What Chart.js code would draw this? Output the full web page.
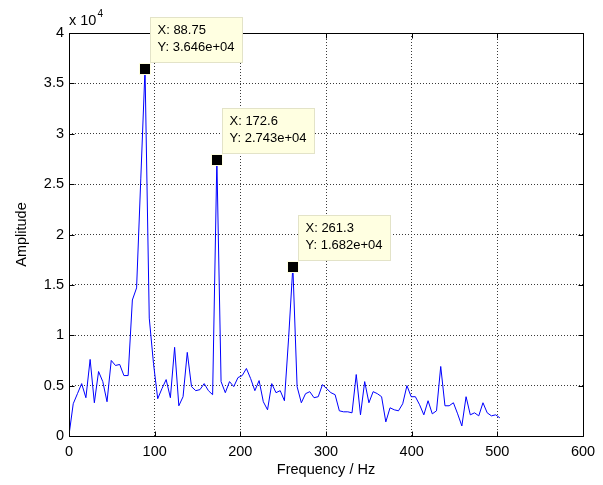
<!DOCTYPE html>
<html>
<head>
<meta charset="utf-8">
<script src="https://cdn.jsdelivr.net/npm/chart.js@4.4.1/dist/chart.umd.min.js"></script>
<style>
    body { margin: 0; background: #fff; }
    #chart { display: block; }
</style>
</head>
<body>
<canvas id="chart" width="603" height="485"></canvas>
<script>
// Frequências (Hz)
const freq = [
    0, 4.93, 9.86, 14.79, 19.72, 24.66, 29.59, 34.52, 39.45, 44.38,
    49.31, 54.24, 59.17, 64.10, 69.03, 73.97, 78.90, 83.83, 88.75, 93.69,
    98.62, 103.55, 108.48, 113.41, 118.34, 123.28, 128.21, 133.14, 138.07, 143.00,
    147.93, 152.86, 157.79, 162.72, 167.65, 172.6, 177.52, 182.45, 187.38, 192.31,
    197.24, 202.17, 207.10, 212.03, 216.96, 221.90, 226.83, 231.76, 236.69, 241.62,
    246.55, 251.48, 256.41, 261.3, 266.27, 271.21, 276.14, 281.07, 286.00, 290.93,
    295.86, 300.79, 305.72, 310.65, 315.58, 320.52, 325.45, 330.38, 335.31, 340.24,
    345.17, 350.10, 355.03, 359.96, 364.89, 369.83, 374.76, 379.69, 384.62, 389.55,
    394.48, 399.41, 404.34, 409.27, 414.20, 419.14, 424.07, 429.00, 433.93, 438.86,
    443.79, 448.72, 453.65, 458.58, 463.51, 468.45, 473.38, 478.31, 483.24, 488.17,
    493.10, 498.03, 502.96
];

// Amplitudes correspondentes
const amplitude = [
    100, 3200, 4200, 5200, 3800, 7600, 3300, 6400, 5400, 3400,
    7500, 7000, 7100, 6000, 6000, 13500, 14700, 25600, 36460, 11700,
    7200, 3700, 4700, 5600, 3800, 8800, 3000, 3900, 8300, 4900,
    4500, 4600, 5200, 4500, 4100, 27430, 5400, 4300, 5400, 4900,
    5800, 6000, 6700, 5700, 4500, 5500, 3400, 2600, 5200, 4300,
    4500, 3500, 9800, 16820, 4900, 3300, 4200, 4400, 3800, 3900,
    5100, 4700, 4300, 4100, 2500, 2400, 2400, 2300, 6100, 2100,
    5400, 3300, 4400, 4200, 3900, 1400, 2800, 2600, 2500, 3200,
    5000, 3900, 3900, 3100, 2100, 3500, 2200, 2500, 6900, 3000,
    3000, 3300, 2200, 1000, 3900, 2100, 2300, 2000, 3300, 2300,
    2000, 2100, 1800
];

// Índices dos picos marcados (data tips)
const peakIdx = [18, 35, 53];

// Ticks dos eixos
const xTicks = [0, 100, 200, 300, 400, 500, 600];
const yTicks = [0, 5000, 10000, 15000, 20000, 25000, 30000, 35000, 40000];

const FONT = 'Liberation Sans, Arial, sans-serif';

function fmtExp(v) {
    // 36460 -> 3.646e+04 (estilo MATLAB)
    const s = v.toExponential(3);
    return s.replace(/e([+-])(\d)$/, 'e$10$2');
}

// Fundo branco
const bgPlugin = {
    id: 'bg',
    beforeDraw(chart) {
        const ctx = chart.ctx;
        ctx.save();
        ctx.fillStyle = '#fff';
        ctx.fillRect(0, 0, chart.width, chart.height);
        ctx.restore();
    }
};

// Caixa do eixo com ticks para dentro + "x 10^4"
const framePlugin = {
    id: 'frame',
    afterDatasetsDraw(chart) {
        const { ctx, chartArea: a, scales } = chart;
        const L = Math.round(a.left) + 0.5, R = Math.round(a.right) + 0.5;
        const T = Math.round(a.top) + 0.5, B = Math.round(a.bottom) + 0.5;
        ctx.save();
        ctx.strokeStyle = '#000';
        ctx.lineWidth = 1;
        ctx.beginPath();
        ctx.rect(L, T, R - L, B - T);
        xTicks.forEach(v => {
            const px = Math.round(scales.x.getPixelForValue(v)) + 0.5;
            ctx.moveTo(px, B); ctx.lineTo(px, B - 5);
            ctx.moveTo(px, T); ctx.lineTo(px, T + 5);
        });
        yTicks.forEach(v => {
            const py = Math.round(scales.y.getPixelForValue(v)) + 0.5;
            ctx.moveTo(L, py); ctx.lineTo(L + 5, py);
            ctx.moveTo(R, py); ctx.lineTo(R - 5, py);
        });
        ctx.stroke();

        // multiplicador do eixo Y
        ctx.fillStyle = '#000';
        ctx.textBaseline = 'alphabetic';
        ctx.font = '14.5px ' + FONT;
        ctx.fillText('x 10', a.left, 25);
        const w = ctx.measureText('x 10').width;
        ctx.font = '10px ' + FONT;
        ctx.fillText('4', a.left + w + 1, 17);
        ctx.restore();
    }
};

// Data tips dos picos
const tipPlugin = {
    id: 'tips',
    afterDraw(chart) {
        const { ctx, scales } = chart;
        ctx.save();
        peakIdx.forEach(i => {
            const mx = scales.x.getPixelForValue(freq[i]);
            const my = scales.y.getPixelForValue(amplitude[i]);

            // marcador quadrado
            ctx.fillStyle = '#ffffe1';
            ctx.fillRect(Math.round(mx) - 6, Math.round(my) - 6, 12, 12);
            ctx.fillStyle = '#000';
            ctx.fillRect(Math.round(mx) - 5, Math.round(my) - 5, 10, 10);

            // caixa de texto
            const l1 = 'X: ' + freq[i];
            const l2 = 'Y: ' + fmtExp(amplitude[i]);
            ctx.font = '13px ' + FONT;
            const tw = Math.max(ctx.measureText(l1).width, ctx.measureText(l2).width);
            const bx = Math.round(mx) + 5.5, by = Math.round(my) - 51.5;
            const bw = Math.round(tw + 15), bh = 45;
            ctx.fillStyle = '#ffffe1';
            ctx.fillRect(bx, by, bw, bh);
            ctx.strokeStyle = '#e3e3c8';
            ctx.lineWidth = 1;
            ctx.strokeRect(bx, by, bw, bh);
            ctx.fillStyle = '#000';
            ctx.textBaseline = 'middle';
            ctx.fillText(l1, bx + 7, by + 13);
            ctx.fillText(l2, bx + 7, by + 30);
        });
        ctx.restore();
    }
};

new Chart(document.getElementById('chart'), {
    type: 'line',
    data: {
        datasets: [{
            data: freq.map((f, i) => ({ x: f, y: amplitude[i] })),
            borderColor: '#0000ff',
            borderWidth: 1,
            pointRadius: 0,
            tension: 0,
            fill: false
        }]
    },
    options: {
        responsive: false,
        devicePixelRatio: 1,
        animation: false,
        events: [],
        layout: { padding: { top: 33, right: 20, left: 0, bottom: 0 } },
        plugins: {
            legend: { display: false },
            tooltip: { enabled: false }
        },
        scales: {
            x: {
                type: 'linear',
                min: 0,
                max: 600,
                afterFit: s => { s.height = 49; },
                afterBuildTicks: s => { s.ticks = xTicks.map(v => ({ value: v })); },
                ticks: {
                    color: '#000',
                    padding: 7,
                    maxRotation: 0,
                    font: { family: FONT, size: 14.5 }
                },
                grid: { color: '#3a3a3a', drawTicks: false, lineWidth: 1 },
                border: { display: false, dash: [1, 2] },
                title: {
                    display: true,
                    text: 'Frequency / Hz',
                    color: '#000',
                    font: { family: FONT, size: 14.5 },
                    padding: { top: 0, bottom: 6 }
                }
            },
            y: {
                type: 'linear',
                min: 0,
                max: 40000,
                afterFit: s => { s.width = 69; },
                afterBuildTicks: s => { s.ticks = yTicks.map(v => ({ value: v })); },
                ticks: {
                    color: '#000',
                    padding: 5,
                    font: { family: FONT, size: 14.5 },
                    callback: v => String(v / 10000)
                },
                grid: { color: '#3a3a3a', drawTicks: false, lineWidth: 1 },
                border: { display: false, dash: [1, 2] },
                title: {
                    display: true,
                    text: 'Amplitude',
                    color: '#000',
                    font: { family: FONT, size: 14.5 },
                    padding: { top: 13, bottom: 0 }
                }
            }
        }
    },
    plugins: [bgPlugin, framePlugin, tipPlugin]
});
</script>
</body>
</html>
